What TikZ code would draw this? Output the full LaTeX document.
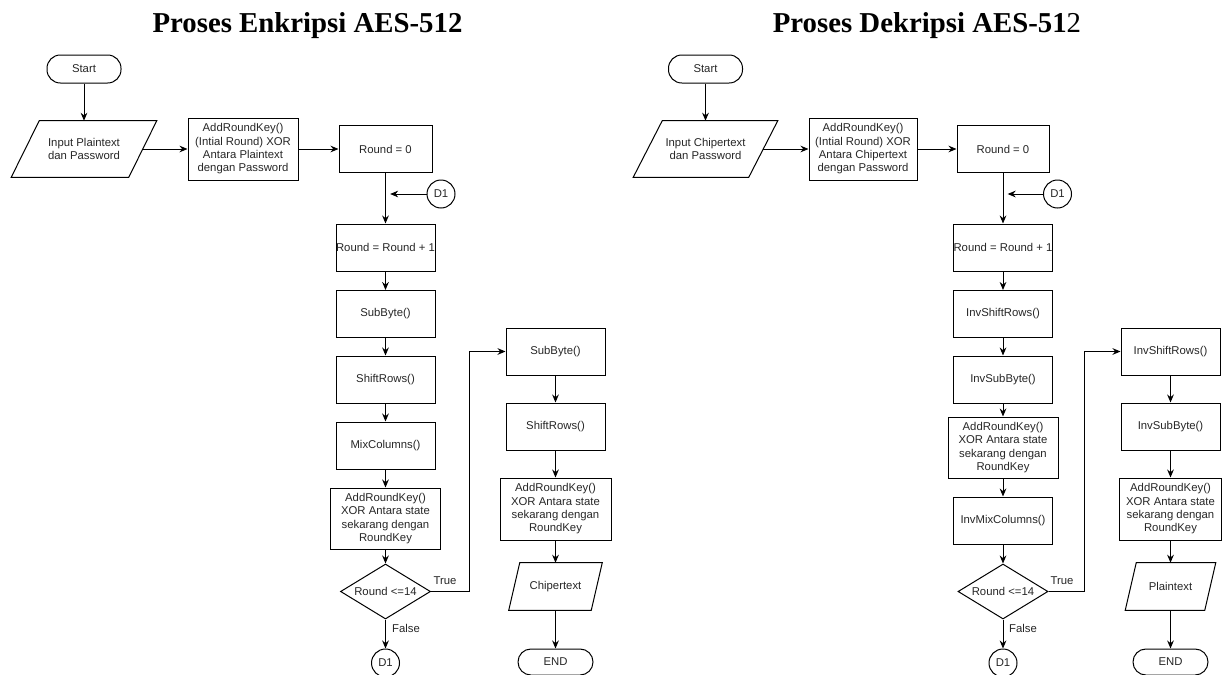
\documentclass[tikz,border=0pt]{standalone}
\usepackage{fontspec}
\setmainfont{Liberation Sans}
\newfontfamily\titlefont{Liberation Serif}
\usetikzlibrary{shapes.geometric,arrows.meta,calc}
\begin{document}
\begin{tikzpicture}[x=0.75pt,y=-0.75pt,
  every node/.style={font=\fontsize{8.5pt}{10pt}\selectfont, text=black!85, align=center, inner sep=0pt},
  box/.style={draw, line width=0.75pt, rectangle, minimum width=74.25pt, minimum height=35.25pt},
  term/.style={draw, line width=0.75pt, rectangle, rounded corners=10pt, minimum width=55.5pt, minimum height=21pt},
  dec/.style={draw, line width=0.75pt, diamond, minimum width=67.5pt, minimum height=41.25pt, aspect=1.6},
  conn/.style={draw, line width=0.75pt, circle, minimum size=21pt},
  iobox/.style={rectangle, minimum height=42pt},
  flow/.style={line width=0.75pt, -{Stealth[length=6pt,width=5pt]}},
  edge/.style={line width=0.75pt},
  titl/.style={font=\titlefont\fontsize{21.6pt}{24pt}\selectfont, text=black, anchor=base}
]
\useasboundingbox (0,0) rectangle (1222,675);

% ---------------- Left: Enkripsi ----------------
\node[titl] (t1) at (307.5,32) {\bfseries Proses Enkripsi AES-512};
\node[term] (s1) at (84,69) {Start};
\node[iobox, minimum width=108.75pt] (in1) at (84,149) {Input Plaintext\\dan Password};
\draw[edge] ([xshift=21pt]in1.north west) -- (in1.north east) -- ([xshift=-21pt]in1.south east) -- (in1.south west) -- cycle;
\node[box, minimum width=82.5pt, minimum height=46.5pt] (a1) at (243,149) {AddRoundKey()\\(Intial Round) XOR\\Antara Plaintext\\dengan Password};
\node[box, minimum width=69.75pt] (r0a) at (385.5,149) {Round = 0};
\node[conn] (d1a) at (441,194) {D1};
\node[box] (r1a) at (385.5,247.5) {Round = Round + 1};
\node[box] (p1) at (385.5,314) {SubByte()};
\node[box] (p2) at (385.5,379.5) {ShiftRows()};
\node[box] (p3) at (385.5,445.5) {MixColumns()};
\node[box, minimum width=82.5pt, minimum height=45.75pt] (p4) at (385.5,518.5) {AddRoundKey()\\XOR Antara state\\sekarang dengan\\RoundKey};
\node[dec] (dc1) at (385.5,591.5) {Round <=14};
\node[conn] (d1b) at (385.5,663) {D1};
\node[box] (q1) at (555.5,351.5) {SubByte()};
\node[box] (q2) at (555.5,426.5) {ShiftRows()};
\node[box, minimum width=83.25pt, minimum height=46.5pt] (q3) at (555.5,509) {AddRoundKey()\\XOR Antara state\\sekarang dengan\\RoundKey};
\node[rectangle, minimum width=69.75pt, minimum height=35.25pt] (o1) at (555.5,586.5) {Chipertext};
\draw[edge] ([xshift=8.25pt]o1.north west) -- (o1.north east) -- ([xshift=-8.25pt]o1.south east) -- (o1.south west) -- cycle;
\node[term, minimum width=56.25pt, minimum height=19.5pt, rounded corners=9.7pt] (e1) at (555.5,662) {END};
\node (tr1) at (445,581) {True};
\node (fa1) at (406,628) {False};
\coordinate (k1) at (469,591.5);

\draw[flow] (s1) -- (in1.north);
\draw[flow, shorten <=-10.5pt] (in1.east) -- (a1.west);
\draw[flow] (a1) -- (r0a);
\draw[flow] (r0a) -- (r1a);
\draw[flow, shorten >=3.5pt] (d1a.west) -- (d1a.west -| r0a.south);
\draw[flow] (r1a) -- (p1);
\draw[flow] (p1) -- (p2);
\draw[flow] (p2) -- (p3);
\draw[flow] (p3) -- (p4);
\draw[flow] (p4) -- (dc1);
\draw[flow] (dc1) -- (d1b);
\draw[flow] (dc1.east) -- (k1) |- (q1.west);
\draw[flow] (q1) -- (q2);
\draw[flow] (q2) -- (q3);
\draw[flow] (q3) -- (o1.north);
\draw[flow] (o1.south) -- (e1);

% ---------------- Right: Dekripsi ----------------
\node[titl] (t2) at (927,32) {\bfseries Proses Dekripsi AES-51\mdseries 2};
\node[term] (s2) at (705.5,69) {Start};
\node[iobox, minimum width=108pt] (in2) at (705.5,149) {Input Chipertext\\dan Password};
\draw[edge] ([xshift=21.75pt]in2.north west) -- (in2.north east) -- ([xshift=-21.75pt]in2.south east) -- (in2.south west) -- cycle;
\node[box, minimum width=81pt, minimum height=46.5pt] (a2) at (863,149) {AddRoundKey()\\(Intial Round) XOR\\Antara Chipertext\\dengan Password};
\node[box, minimum width=69pt] (r0b) at (1003,149) {Round = 0};
\node[conn] (d1c) at (1057.5,194) {D1};
\node[box] (r1b) at (1003,247.5) {Round = Round + 1};
\node[box] (m1) at (1003,314) {InvShiftRows()};
\node[box] (m2) at (1003,379.5) {InvSubByte()};
\node[box, minimum width=82.5pt, minimum height=45.75pt] (m3) at (1003,447.5) {AddRoundKey()\\XOR Antara state\\sekarang dengan\\RoundKey};
\node[box] (m4) at (1003,520.5) {InvMixColumns()};
\node[dec] (dc2) at (1003,591.5) {Round <=14};
\node[conn] (d1d) at (1003,663) {D1};
\node[box] (n1) at (1170.5,351.5) {InvShiftRows()};
\node[box] (n2) at (1170.5,426.5) {InvSubByte()};
\node[box, minimum width=76.5pt, minimum height=46.5pt] (n3) at (1170.5,509) {AddRoundKey()\\XOR Antara state\\sekarang dengan\\RoundKey};
\node[rectangle, minimum width=67.5pt, minimum height=35.25pt] (o2) at (1170.5,586.5) {Plaintext};
\draw[edge] ([xshift=8.25pt]o2.north west) -- (o2.north east) -- ([xshift=-8.25pt]o2.south east) -- (o2.south west) -- cycle;
\node[term, minimum width=56.25pt, minimum height=19.5pt, rounded corners=9.7pt] (e2) at (1170.5,662) {END};
\node (tr2) at (1062,581) {True};
\node (fa2) at (1023,628) {False};
\coordinate (k2) at (1084,591.5);

\draw[flow] (s2) -- (in2.north);
\draw[flow, shorten <=-10.9pt] (in2.east) -- (a2.west);
\draw[flow] (a2) -- (r0b);
\draw[flow] (r0b) -- (r1b);
\draw[flow, shorten >=3.5pt] (d1c.west) -- (d1c.west -| r0b.south);
\draw[flow] (r1b) -- (m1);
\draw[flow] (m1) -- (m2);
\draw[flow] (m2) -- (m3);
\draw[flow] (m3) -- (m4);
\draw[flow] (m4) -- (dc2);
\draw[flow] (dc2) -- (d1d);
\draw[flow] (dc2.east) -- (k2) |- (n1.west);
\draw[flow] (n1) -- (n2);
\draw[flow] (n2) -- (n3);
\draw[flow] (n3) -- (o2.north);
\draw[flow] (o2.south) -- (e2);
\end{tikzpicture}
\end{document}
